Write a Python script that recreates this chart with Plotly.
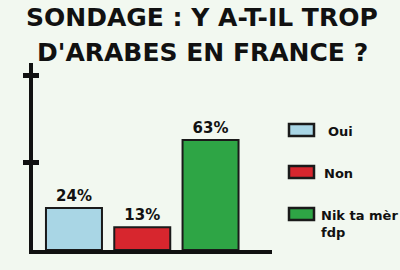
import plotly.graph_objects as go

categories = ["Oui", "Non", "Nik ta mèr<br>fdp"]
values = [24, 13, 63]
labels = ["24%", "13%", "63%"]
colors = ["#a9d6e5", "#d7262e", "#2ea545"]
title_lines = ["SONDAGE : Y A-T-IL TROP", "D'ARABES EN FRANCE ?"]

W, H = 400, 270
ML, MR, MT, MB = 33, 128, 63, 20
PW, PH = W - ML - MR, H - MT - MB
BG = "#f2f8f0"
FONT = "DejaVu Sans"


def px(x):
    return (x - ML) / PW


def py(y):
    return (H - MB - y) / PH


fig = go.Figure()
fig.add_trace(go.Bar(
    x=[0, 1, 2], y=values, text=labels, textposition="outside",
    texttemplate="<b>%{text}</b>",
    textfont=dict(family=FONT, size=15, color="#111"),
    marker=dict(color=colors, line=dict(color="#1a1a1a", width=2)),
    width=0.82, cliponaxis=False, showlegend=False, hoverinfo="skip",
))
# overlay axis to give crossing ticks
fig.add_trace(go.Scatter(x=[0], y=[0], yaxis="y2", mode="markers",
                         marker=dict(opacity=0), showlegend=False, hoverinfo="skip"))

annotations = []
ty = [17.5, 52.5]
for line, yy in zip(title_lines, ty):
    annotations.append(dict(text="<b>" + line + "</b>", x=px(202), y=py(yy), xref="paper", yref="paper",
                            xanchor="center", yanchor="middle", showarrow=False,
                            font=dict(family=FONT, size=25, color="#111")))

shapes = []
leg_y = [130, 172, 214]
leg_tx = [326, 322, 319]
for cat, col, yy, tx in zip(categories, colors, leg_y, leg_tx):
    shapes.append(dict(type="rect", xref="paper", yref="paper",
                       x0=px(289), x1=px(314), y0=py(yy - 6), y1=py(yy + 6),
                       fillcolor=col, line=dict(color="#1a1a1a", width=2.5)))
    annotations.append(dict(text="<b>" + cat + "</b>", x=px(tx), y=py(yy - 8), xref="paper", yref="paper",
                            xanchor="left", yanchor="top", align="left", showarrow=False,
                            font=dict(family=FONT, size=13, color="#111")))

fig.update_layout(
    width=W, height=H, margin=dict(l=ML, r=MR, t=MT, b=MB),
    paper_bgcolor=BG, plot_bgcolor=BG,
    xaxis=dict(range=[-0.6, 2.9], showticklabels=False, showgrid=False, zeroline=False,
               showline=True, linewidth=4, linecolor="#111", ticks=""),
    yaxis=dict(range=[0, 107], tickvals=[50, 100], showticklabels=False, showgrid=False,
               zeroline=False, showline=True, linewidth=4, linecolor="#111",
               ticks="outside", ticklen=6, tickwidth=5, tickcolor="#111"),
    yaxis2=dict(range=[0, 107], overlaying="y", side="left", tickvals=[50, 100],
                showticklabels=False, showgrid=False, zeroline=False, showline=False,
                ticks="inside", ticklen=6, tickwidth=5, tickcolor="#111"),
    annotations=annotations, shapes=shapes,
)

fig.write_html("out.html")
